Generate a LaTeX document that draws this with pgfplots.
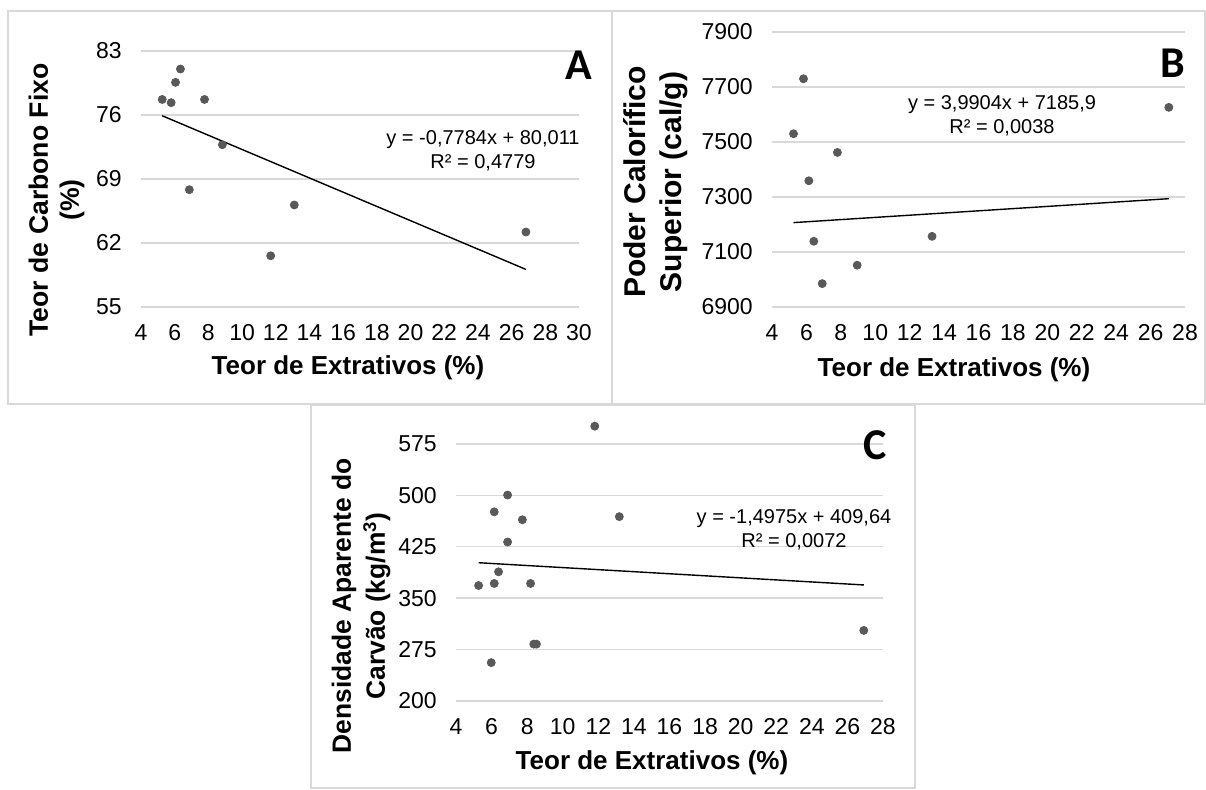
\documentclass[border=0pt]{standalone}
\usepackage{fontspec}
\setmainfont{Liberation Sans}
\newfontfamily\letterfont{Carlito}
\usepackage{pgfplots}
\pgfplotsset{compat=1.18}
\definecolor{gridgray}{HTML}{D9D9D9}
\definecolor{boxgray}{HTML}{D9D9D9}
\definecolor{dotgray}{HTML}{595959}
\pgfplotsset{
  panel/.style={
    scale only axis,
    anchor=south west,
    axis line style={draw=none},
    ymajorgrids, xmajorgrids=false,
    grid style={gridgray, line width=0.7pt},
    major tick length=0pt,
    tick style={draw=none},
    clip=false,
    tick label style={font=\fontsize{11.5}{13}\selectfont},
    /pgf/number format/assume math mode=true,
    /pgf/number format/1000 sep={},
    scaled ticks=false,
    xticklabel style={yshift=-5.1pt},
    yticklabel style={xshift=-6.1pt},
  },
  dots/.style={only marks, mark=*, mark size=2pt, mark options={fill=dotgray, draw=dotgray}},
  trend/.style={black, line width=0.7pt, mark=none},
}
\begin{document}
\begin{tikzpicture}
\path[fill=white] (0,0) rectangle (603pt,394.5pt);
\draw[boxgray, line width=0.8pt] (4pt,192.5pt) rectangle (306pt,389pt);
\draw[boxgray, line width=0.8pt] (306pt,192.5pt) rectangle (602.6pt,389pt);
\draw[boxgray, line width=0.8pt] (155.5pt,0.4pt) rectangle (457.5pt,192pt);

% Panel A
\begin{axis}[panel, at={(70.5pt,241pt)}, width=219pt, height=128pt,
  xmin=4, xmax=30, ymin=55, ymax=83,
  xtick={4,6,...,30}, ytick={55,62,69,76,83}]
\addplot[dots] coordinates {(5.26,77.7) (5.79,77.35) (6.05,79.57) (6.34,81.03) (7.77,77.7) (8.83,72.75) (6.87,67.83) (11.7,60.6) (13.1,66.16) (26.85,63.2)};
\addplot[trend] coordinates {(5.26,75.917) (26.85,59.111)};
\end{axis}

% Panel B
\begin{axis}[panel, at={(386pt,241pt)}, width=206.5pt, height=137.5pt,
  xmin=4, xmax=28, ymin=6900, ymax=7900,
  xtick={4,6,...,28}, ytick={6900,7100,7300,7500,7700,7900}]
\addplot[dots] coordinates {(5.25,7530) (5.83,7730) (6.14,7359) (6.43,7139) (6.92,6985) (7.8,7462) (8.95,7052) (13.3,7157) (27.06,7626)};
\addplot[trend] coordinates {(5.25,7206.85) (27.06,7293.88)};
\end{axis}

% Panel C
\begin{axis}[panel, at={(228pt,44pt)}, width=213.5pt, height=140.5pt,
  xmin=4, xmax=28, ymin=200, ymax=610,
  xtick={4,6,...,28}, ytick={200,275,350,425,500,575}]
\addplot[dots] coordinates {(5.27,368.5) (5.98,256) (6.15,476) (6.15,371.5) (6.39,388.5) (6.9,500.5) (6.9,432) (7.73,464.5) (8.19,371.5) (8.37,283) (8.52,283) (11.8,601) (13.18,469) (26.92,303)};
\addplot[trend] coordinates {(5.27,401.75) (26.92,369.33)};
\end{axis}

% Texts A
\node[rotate=90, align=center, font=\bfseries\fontsize{13.3}{15.5}\selectfont] at (28.25pt,294.5pt) {Teor de Carbono Fixo\\(\%)};
\node[font=\bfseries\fontsize{13}{15.5}\selectfont] at (174pt,210.5pt) {Teor de Extrativos (\%)};
\node[align=center, font=\fontsize{10}{12}\selectfont] at (241.5pt,319pt) {y = -0,7784x + 80,011\\R² = 0,4779};
\node[font=\letterfont\bfseries\fontsize{22}{24}\selectfont] at (289.25pt,362pt) {A};

% Texts B
\node[rotate=90, align=center, font=\bfseries\fontsize{15}{18}\selectfont] at (328pt,303.5pt) {Poder Calorífico\\Superior (cal/g)};
\node[font=\bfseries\fontsize{13}{15.5}\selectfont] at (477pt,209.5pt) {Teor de Extrativos (\%)};
\node[align=center, font=\fontsize{10}{12}\selectfont] at (501pt,336.75pt) {y = 3,9904x + 7185,9\\R² = 0,0038};
\node[font=\letterfont\bfseries\fontsize{22}{24}\selectfont] at (586.5pt,362.75pt) {B};

% Texts C
\node[rotate=90, align=center, font=\bfseries\fontsize{13.2}{17}\selectfont] at (180.5pt,91.5pt) {Densidade Aparente do\\Carvão (kg/m\textsuperscript{3})};
\node[font=\bfseries\fontsize{13}{15.5}\selectfont] at (326pt,13pt) {Teor de Extrativos (\%)};
\node[align=center, font=\fontsize{10}{12}\selectfont] at (397pt,129.5pt) {y = -1,4975x + 409,64\\R² = 0,0072};
\node[font=\letterfont\bfseries\fontsize{22}{24}\selectfont] at (437.5pt,172pt) {C};
\end{tikzpicture}
\end{document}
